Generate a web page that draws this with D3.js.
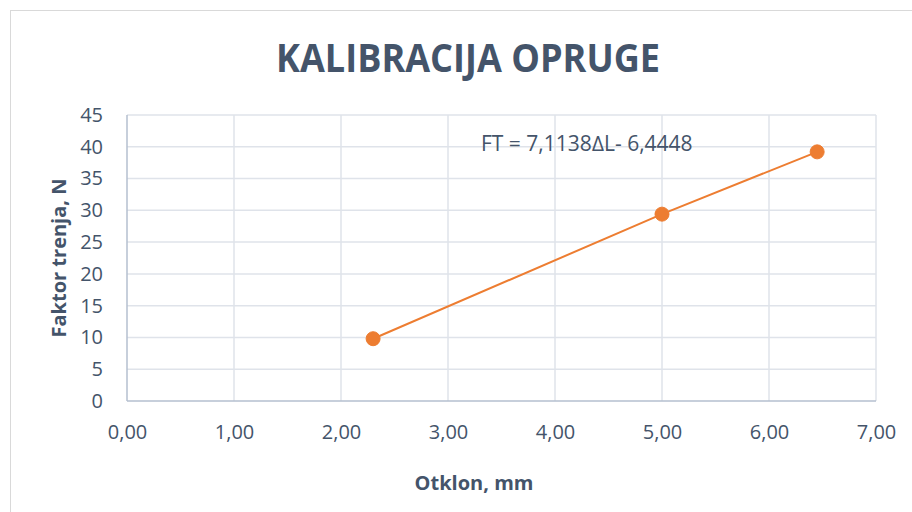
<!DOCTYPE html>
<html lang="hr">
  <head>
    <meta charset="utf-8">
    <title>Kalibracija opruge</title>
    <script src="https://cdn.jsdelivr.net/npm/d3@7"></script>
    <style type="text/css">
      body { margin: 0; background: #fff; }
      text { font-family: "Open Sans", sans-serif; fill: #44546a; }
      .grid line { stroke: #dfe3ea; stroke-width: 1.5; }
      .axis path, .axis line { stroke: #b4bfcf; stroke-width: 1.5; }
      .axis text { font-size: 20px; }
    </style>
  </head>
  <body>
    <svg width="912" height="512"></svg>
    <script type="text/javascript">
      // measured points: otklon (mm) vs faktor trenja (N)
      var otklon = [2.30, 5.00, 6.45];
      var sila = [9.8, 29.4, 39.2];
      var xTicks = [0, 1, 2, 3, 4, 5, 6, 7];
      var yTicks = [0, 5, 10, 15, 20, 25, 30, 35, 40, 45];

      var svg = d3.select("svg");

      svg.append("rect")
        .attr("x", 10.5).attr("y", 10.5)
        .attr("width", 940).attr("height", 540)
        .attr("fill", "#fff")
        .attr("stroke", "#d9d9d9");

      var x = d3.scaleLinear().domain([0, 7]).range([127, 876]);
      var y = d3.scaleLinear().domain([0, 45]).range([401, 115]);

      // gridlines
      svg.append("g").attr("class", "grid")
        .selectAll("line.h").data(yTicks.slice(1)).enter().append("line")
          .attr("x1", x(0)).attr("x2", x(7))
          .attr("y1", function(d) { return y(d); })
          .attr("y2", function(d) { return y(d); });

      svg.append("g").attr("class", "grid")
        .selectAll("line.v").data(xTicks.slice(1)).enter().append("line")
          .attr("y1", y(0)).attr("y2", y(45))
          .attr("x1", function(d) { return x(d); })
          .attr("x2", function(d) { return x(d); });

      var fmt = function(d) { return d3.format(".2f")(d).replace(".", ","); };

      var xAxis = svg.append("g").attr("class", "axis")
        .attr("transform", "translate(0," + y(0) + ")")
        .call(d3.axisBottom(x).tickValues(xTicks).tickFormat(fmt).tickSize(0).tickPadding(24));
      xAxis.select(".domain").attr("d", "M" + x(0) + ",0H" + x(7));

      var yAxis = svg.append("g").attr("class", "axis")
        .attr("transform", "translate(" + x(0) + ",0)")
        .call(d3.axisLeft(y).tickValues(yTicks).tickSize(0).tickPadding(24));
      yAxis.select(".domain").attr("d", "M0," + y(45) + "V" + y(0));

      // series line + markers
      var pts = otklon.map(function(d, i) { return [d, sila[i]]; });
      svg.append("path")
        .datum(pts)
        .attr("fill", "none")
        .attr("stroke", "#ed7d31")
        .attr("stroke-width", 2)
        .attr("d", d3.line().x(function(d) { return x(d[0]); }).y(function(d) { return y(d[1]); }));

      svg.selectAll("circle.pt").data(pts).enter().append("circle")
        .attr("cx", function(d) { return x(d[0]); })
        .attr("cy", function(d) { return y(d[1]); })
        .attr("r", 7)
        .attr("fill", "#ed7d31")
        .attr("stroke", "#ed7d31");

      // titles
      svg.append("text")
        .attr("x", 468).attr("y", 72)
        .attr("text-anchor", "middle")
        .attr("textLength", 384).attr("lengthAdjust", "spacingAndGlyphs")
        .style("font-size", "40px").style("font-weight", "bold")
        .text("KALIBRACIJA OPRUGE");

      svg.append("text")
        .attr("x", 481).attr("y", 151)
        .style("font-size", "21px")
        .text("FT = 7,1138∆L- 6,4448");

      svg.append("text")
        .attr("x", 474).attr("y", 490)
        .attr("text-anchor", "middle")
        .style("font-size", "20px").style("font-weight", "bold")
        .text("Otklon, mm");

      svg.append("text")
        .attr("transform", "translate(66,258) rotate(-90)")
        .attr("text-anchor", "middle")
        .style("font-size", "20px").style("font-weight", "bold")
        .text("Faktor trenja, N");
    </script>
  </body>
</html>
